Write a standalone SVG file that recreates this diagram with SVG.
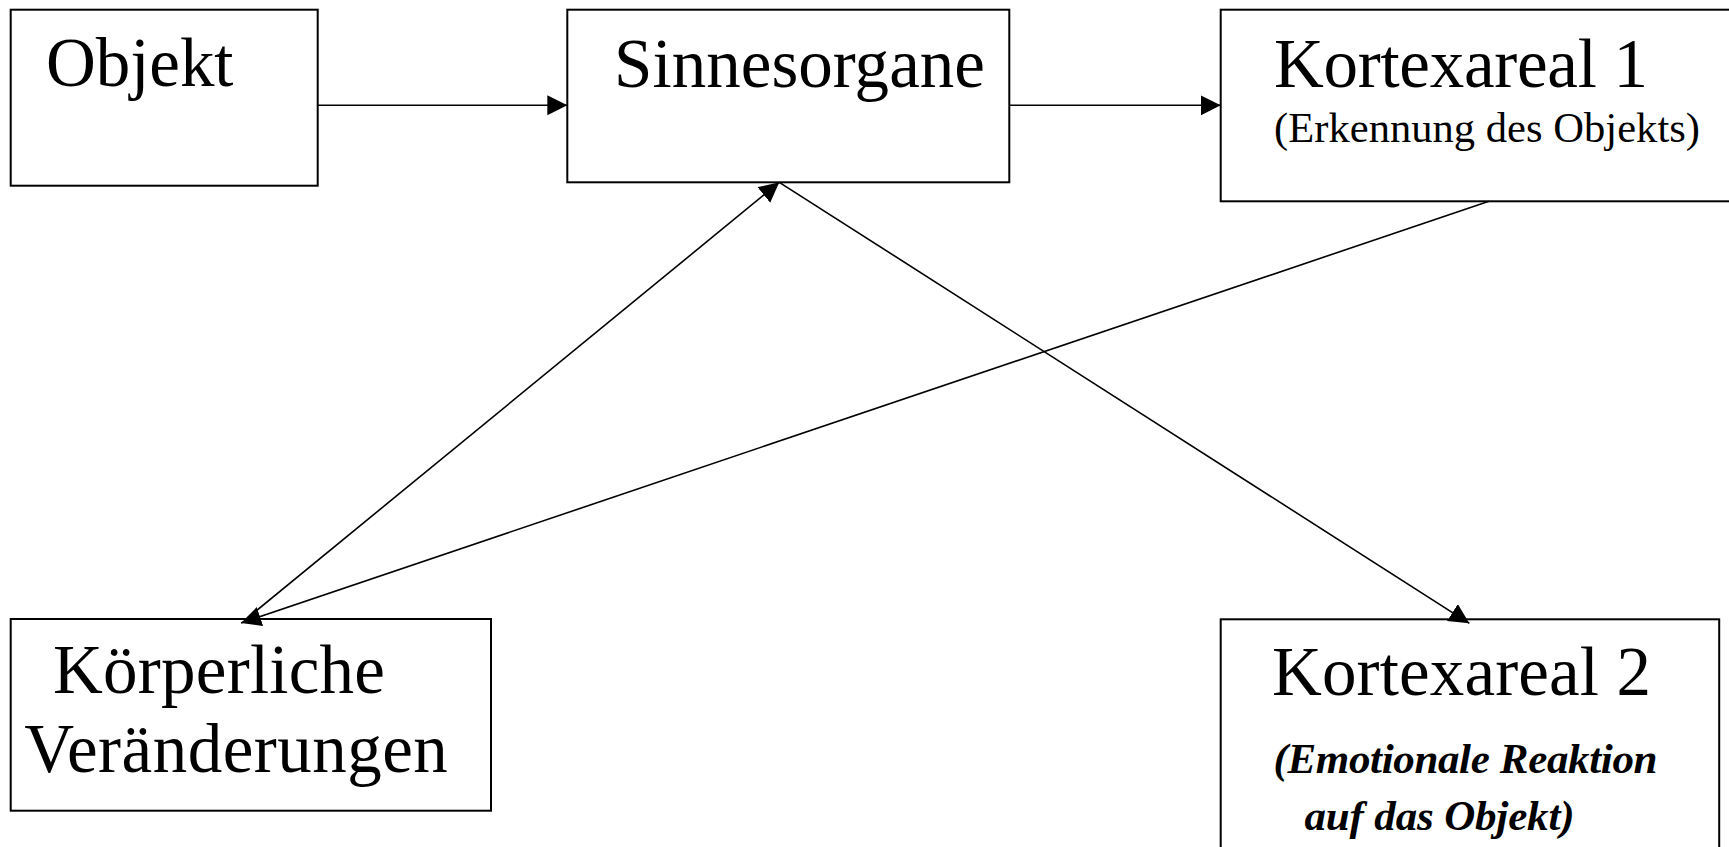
<svg xmlns="http://www.w3.org/2000/svg" width="1729" height="847" viewBox="0 0 1729 847">
<style>
.box{fill:#fff;stroke:#000;stroke-width:2}
.big{font-family:"Liberation Serif","Times New Roman",serif;font-size:69px;fill:#000}
.sub{font-family:"Liberation Serif","Times New Roman",serif;font-size:42.5px;fill:#000}
.subbi{font-family:"Liberation Serif","Times New Roman",serif;font-size:43px;font-weight:bold;font-style:italic;fill:#000}
.con{stroke:#000;stroke-width:1.6;fill:none}
</style>
<defs>
<marker id="arr" markerUnits="userSpaceOnUse" markerWidth="22" markerHeight="22" refX="20" refY="10" orient="auto">
<path d="M0,0 L20,10 L0,20 z" fill="#000"/>
</marker>
</defs>
<rect width="1729" height="847" fill="#fff"/>
<g id="objekt">
<rect class="box" x="10.7" y="9.7" width="307" height="176"/>
<text class="big" x="46" y="86" textLength="187.5" lengthAdjust="spacing">Objekt</text>
</g>
<g id="sinnesorgane">
<rect class="box" x="567.3" y="9.7" width="442" height="172.6"/>
<text class="big" x="614" y="86.7" textLength="371" lengthAdjust="spacing">Sinnesorgane</text>
</g>
<g id="kortexareal1">
<rect class="box" x="1220.7" y="9.7" width="520" height="191.6"/>
<text class="big" x="1274" y="86.7" textLength="374" lengthAdjust="spacing">Kortexareal 1</text>
<text class="sub" x="1274" y="141.7" textLength="426" lengthAdjust="spacing">(Erkennung des Objekts)</text>
</g>
<g id="koerperliche">
<rect class="box" x="10.7" y="619" width="480.3" height="191.7"/>
<text class="big" x="53" y="693" textLength="332" lengthAdjust="spacing">Körperliche</text>
<text class="big" x="24.3" y="772" textLength="423.5" lengthAdjust="spacing">Veränderungen</text>
</g>
<g id="kortexareal2">
<rect class="box" x="1220.7" y="619.3" width="498.5" height="240"/>
<text class="big" x="1272" y="695" textLength="379" lengthAdjust="spacing">Kortexareal 2</text>
<text class="subbi" x="1273.5" y="773.3" textLength="384" lengthAdjust="spacing">(Emotionale Reaktion</text>
<text class="subbi" x="1304.5" y="830" textLength="270" lengthAdjust="spacing">auf das Objekt)</text>
</g>
<g id="connectors">
<line class="con" x1="317.7" y1="105.3" x2="567.3" y2="105.3" marker-end="url(#arr)"/>
<line class="con" x1="1009.3" y1="105.3" x2="1220.7" y2="105.3" marker-end="url(#arr)"/>
<line class="con" x1="1489" y1="201.3" x2="241" y2="623" marker-end="url(#arr)"/>
<line class="con" x1="245" y1="620" x2="779.3" y2="182.3" marker-end="url(#arr)"/>
<line class="con" x1="779.3" y1="182.3" x2="1469.3" y2="623.3" marker-end="url(#arr)"/>
</g>
</svg>
